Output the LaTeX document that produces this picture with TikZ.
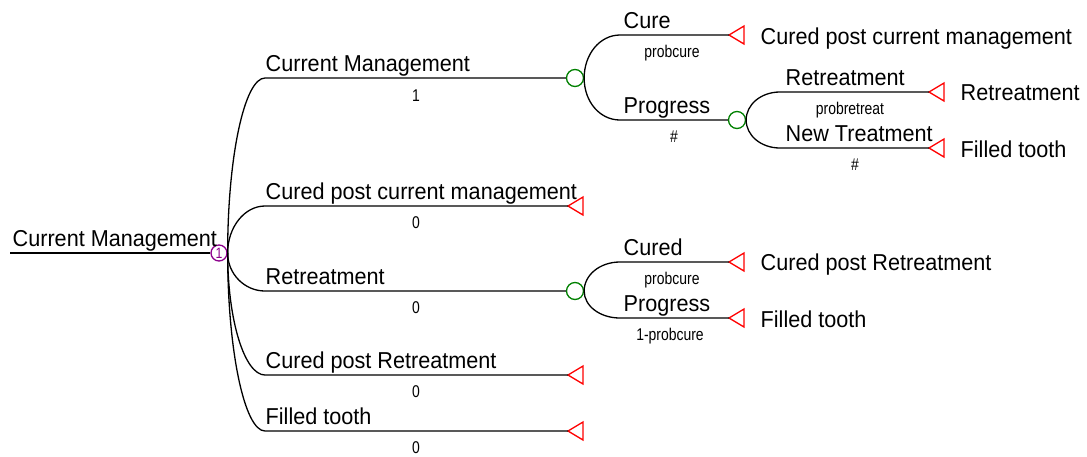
\documentclass[tikz,border=0pt]{standalone}
\usepackage{fontspec}
\setmainfont{Liberation Sans}
\newfontfamily\labf[FakeStretch=0.94]{Liberation Sans}
\newfontfamily\probf[FakeStretch=0.82]{Liberation Sans}
\definecolor{chgreen}{RGB}{0,128,0}
\definecolor{termred}{RGB}{255,0,0}
\definecolor{decpurple}{RGB}{140,0,140}
\begin{document}
\begin{tikzpicture}[x=1pt,y=-1pt,line width=1.4pt,
  lab/.style={anchor=base west, inner sep=0, font=\labf\fontsize{23}{26}\selectfont},
  prob/.style={anchor=base, inner sep=0, font=\probf\fontsize{17}{20}\selectfont},
  chance/.style={circle, draw=chgreen, minimum size=17pt, inner sep=0, line width=1.3pt},
  decn/.style={circle, draw=decpurple, minimum size=16pt, inner sep=0, line width=1.3pt, text=decpurple, font=\probf\fontsize{15}{15}\selectfont},
  termtri/.style={draw=termred, line width=1.3pt, line join=miter},
  branch/.style={draw=black, line width=1.3pt}]
\useasboundingbox (0,0) rectangle (1087,456);

% nodes
\coordinate (root) at (10,253);
\node[decn] (dec) at (219,253) {1};
\node[chance] (c1) at (575,78) {};
\node[chance] (c2) at (737,120) {};
\node[chance] (c3) at (575,291) {};
\coordinate (tA) at (568,206);
\coordinate (tB) at (568,375);
\coordinate (tC) at (568,431);
\coordinate (tD) at (729,35);
\coordinate (tE) at (929,92);
\coordinate (tF) at (929,148);
\coordinate (tG) at (729,262);
\coordinate (tH) at (729,318);

% terminals
\foreach \t in {tA,tB,tC,tD,tE,tF,tG,tH}
  \draw[termtri] (\t) -- ++(15,-9) -- ++(0,18) -- cycle;

% connectors (quarter-ellipse bends)
\draw[branch] (root) -- (dec.west);
\draw[branch] (dec.east) .. controls +(0,-96.7) and +(-20.4,0) .. (265,78) -- (c1.west);
\draw[branch] (dec.east) .. controls +(0,-26.0) and +(-20.4,0) .. (265,206) -- (tA);
\draw[branch] (dec.east) .. controls +(0,21.0) and +(-20.4,0) .. (265,291) -- (c3.west);
\draw[branch] (dec.east) .. controls +(0,67.4) and +(-20.4,0) .. (265,375) -- (tB);
\draw[branch] (dec.east) .. controls +(0,98.3) and +(-20.4,0) .. (265,431) -- (tC);

\draw[branch] (c1.east) .. controls +(0,-23.7) and +(-20.2,0) .. (620,35) -- (tD);
\draw[branch] (c1.east) .. controls +(0,23.7) and +(-20.2,0) .. (620,120) -- (c2.west);
\draw[branch] (c2.east) .. controls +(0,-15.5) and +(-19,0) .. (780,92) -- (tE);
\draw[branch] (c2.east) .. controls +(0,15.5) and +(-19,0) .. (780,148) -- (tF);
\draw[branch] (c3.east) .. controls +(0,-16.0) and +(-20.2,0) .. (620,262) -- (tG);
\draw[branch] (c3.east) .. controls +(0,14.9) and +(-20.2,0) .. (620,318) -- (tH);

% labels
\node[lab] (lroot) at (12,246) {Current Management};
\node[lab] (l1) at (265,71) {Current Management};
\node[lab] (l2) at (265,199) {Cured post current management};
\node[lab] (l3) at (265,284) {Retreatment};
\node[lab] (l4) at (265,368) {Cured post Retreatment};
\node[lab] (l5) at (265,424) {Filled tooth};
\node[prob] (p1) at (416,101) {1};
\node[prob] (p2) at (416,228) {0};
\node[prob] (p3) at (416,313) {0};
\node[prob] (p4) at (416,397) {0};
\node[prob] (p5) at (416,453) {0};

\node[lab] (l6) at (623,28) {Cure};
\node[lab] (l7) at (623,113) {Progress};
\node[prob] (p6) at (672,57) {probcure};
\node[prob] (p7) at (674,142) {\#};

\node[lab] (l8) at (785,85) {Retreatment};
\node[lab] (l9) at (785,141) {New Treatment};
\node[prob] (p8) at (850,114) {probretreat};
\node[prob] (p9) at (855,170) {\#};

\node[lab] (l10) at (623,255) {Cured};
\node[lab] (l11) at (623,311) {Progress};
\node[prob] (p10) at (672,284) {probcure};
\node[prob] (p11) at (670,340) {1-probcure};

% terminal labels
\node[lab] (e1) at (760,44) {Cured post current management};
\node[lab] (e2) at (960,100) {Retreatment};
\node[lab] (e3) at (960,157) {Filled tooth};
\node[lab] (e4) at (760,270) {Cured post Retreatment};
\node[lab] (e5) at (760,327) {Filled tooth};
\end{tikzpicture}
\end{document}
